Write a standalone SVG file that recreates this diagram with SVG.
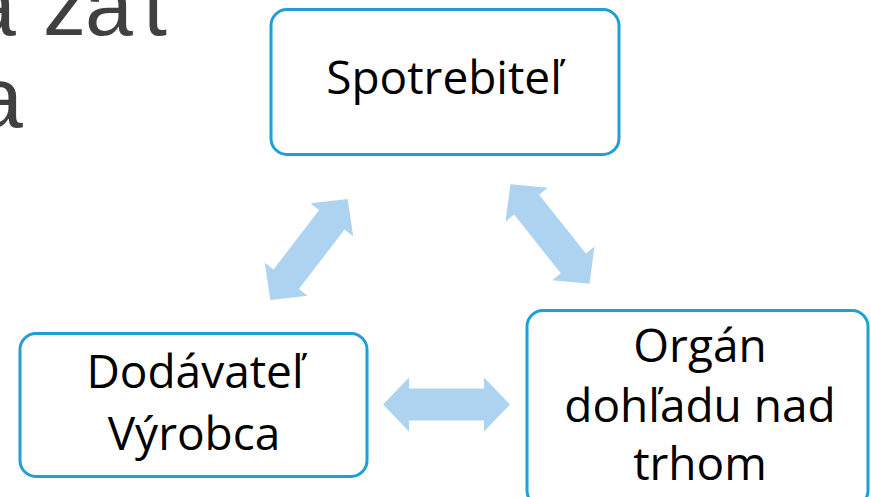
<svg xmlns="http://www.w3.org/2000/svg" xmlns:xlink="http://www.w3.org/1999/xlink" width="871" height="497" viewBox="0 0 871 497">
  <style>
    .box { fill: #ffffff; stroke: #1F9FD5; stroke-width: 3; }
    .lbl { font-family: "Open Sans", "Noto Sans", "Liberation Sans", sans-serif; font-size: 46px; fill: #000000; text-anchor: middle; }
    .title { font-family: "Liberation Sans", "DejaVu Sans", sans-serif; font-size: 86px; fill: #404040; }
    .arrow { fill: #AED3F0; }
  </style>
  <defs>
    <path id="dblArrow" d="M -63.5 0 L -37.5 -27 L -37.5 -16 L 37.5 -16 L 37.5 -27 L 63.5 0 L 37.5 27 L 37.5 16 L -37.5 16 L -37.5 27 Z"/>
  </defs>
  <rect width="871" height="497" fill="#ffffff"/>

  <g id="title">
    <text class="title" x="-32 43 85 143" y="35">azat</text>
    <text class="title" x="-25" y="127">a</text>
  </g>

  <g id="connectors" class="arrow">
    <use xlink:href="#dblArrow" href="#dblArrow" transform="translate(309 249.5) rotate(-52.5)"/>
    <use xlink:href="#dblArrow" href="#dblArrow" transform="translate(550 234) rotate(51.5)"/>
    <use xlink:href="#dblArrow" href="#dblArrow" transform="translate(446.5 404.5)"/>
  </g>

  <g id="node-spotrebitel">
    <rect class="box" x="271" y="9.5" width="348" height="145" rx="16" ry="16"/>
    <text class="lbl" x="444" y="94">Spotrebiteľ</text>
  </g>

  <g id="node-dodavatel">
    <rect class="box" x="20" y="333.5" width="347" height="143" rx="16" ry="16"/>
    <text class="lbl" x="195" y="388">Dodávateľ</text>
    <text class="lbl" x="194" y="450">Výrobca</text>
  </g>

  <g id="node-organ">
    <rect class="box" x="527" y="310.5" width="341" height="196" rx="16" ry="16"/>
    <text class="lbl" x="700" y="362">Orgán</text>
    <text class="lbl" x="700" y="422">dohľadu nad</text>
    <text class="lbl" x="700" y="480">trhom</text>
  </g>
</svg>
